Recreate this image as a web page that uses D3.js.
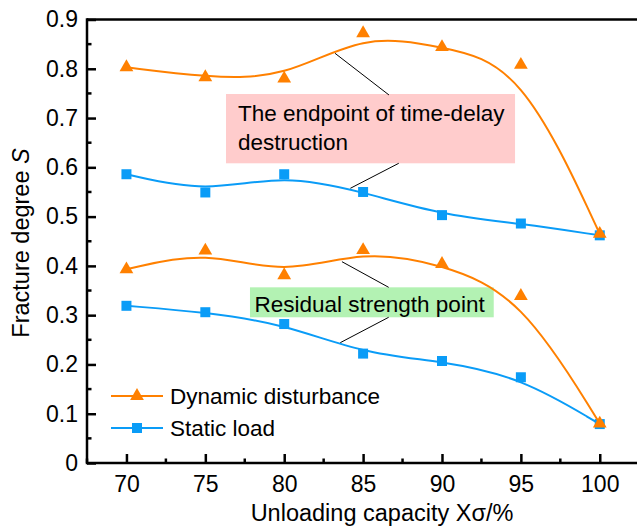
<!DOCTYPE html>
<html>
<head>
<meta charset="utf-8">
<script src="https://cdn.jsdelivr.net/npm/d3@7/dist/d3.min.js"></script>
<style>
  html, body { margin: 0; padding: 0; background: #fff; }
  svg { display: block; font-family: "Liberation Sans", Arial, sans-serif; }
</style>
</head>
<body>
<svg id="chart" width="637" height="530"></svg>
<script>
// Unloading capacity (%) on the x axis
const xCategories = [70, 75, 80, 85, 90, 95, 100];

// Endpoint of time-delay destruction
const dynamicEndpoint = [0.803, 0.783, 0.780, 0.872, 0.844, 0.808, 0.465];
const staticEndpoint  = [0.586, 0.549, 0.586, 0.550, 0.503, 0.486, 0.462];

// Residual strength point
const dynamicResidual = [0.393, 0.431, 0.381, 0.432, 0.404, 0.339, 0.080];
const staticResidual  = [0.319, 0.306, 0.282, 0.222, 0.207, 0.174, 0.079];

const xTicks = [70, 75, 80, 85, 90, 95, 100];
const yTicks = [0, 0.1, 0.2, 0.3, 0.4, 0.5, 0.6, 0.7, 0.8, 0.9];
const yTickLabels = ["0", "0.1", "0.2", "0.3", "0.4", "0.5", "0.6", "0.7", "0.8", "0.9"];

const seriesNames = ["Dynamic disturbance", "Static load"];

const ORANGE = "#ff8000";
const BLUE = "#0a9cf7";

const svg = d3.select("#chart");

const x = d3.scaleLinear().domain([67.5, 102.5]).range([87, 639.2]);
const y = d3.scaleLinear().domain([0, 0.9]).range([463, 19.5]);

const TICK_FONT = 23;
const TITLE_FONT = 23.5;
const TEXT_FONT = 22.5;

// ---- axes frame ----
svg.append("line")
  .attr("x1", x(67.5)).attr("x2", 637)
  .attr("y1", y(0.9)).attr("y2", y(0.9))
  .attr("stroke", "#000").attr("stroke-width", 2.5);

// bottom axis, ticks pointing inward
const xAxis = d3.axisBottom(x).tickValues(xTicks).tickSize(-9).tickPadding(0).tickFormat(d3.format("d"));
const gx = svg.append("g").attr("transform", `translate(0,${y(0)})`).call(xAxis);
gx.select(".domain").attr("d", `M${x(67.5)},0H637`).attr("stroke-width", 2.5);
gx.selectAll(".tick line").attr("stroke-width", 2.5);
gx.selectAll(".tick text").attr("font-size", TICK_FONT).attr("font-family", "Liberation Sans, Arial, sans-serif")
  .attr("fill", "#000").attr("dy", null).attr("y", 28.5);
const xMinor = d3.range(67.5, 102.6, 2.5).filter(v => !xTicks.some(t => Math.abs(t - v) < 1e-6));
gx.selectAll(".minor").data(xMinor).enter().append("line")
  .attr("x1", d => x(d)).attr("x2", d => x(d))
  .attr("y1", 0).attr("y2", -4.5)
  .attr("stroke", "#000").attr("stroke-width", 2.5);

// left axis, ticks pointing inward
const yAxis = d3.axisLeft(y).tickValues(yTicks).tickSize(-9).tickPadding(0)
  .tickFormat((d, i) => yTickLabels[i]);
const gy = svg.append("g").attr("transform", `translate(${x(67.5)},0)`).call(yAxis);
gy.select(".domain").attr("d", `M0,${y(0) + 1.25}V${y(0.9) - 1.25}`).attr("stroke-width", 2.5);
gy.selectAll(".tick line").attr("stroke-width", 2.5);
gy.selectAll(".tick text").attr("font-size", TICK_FONT).attr("font-family", "Liberation Sans, Arial, sans-serif")
  .attr("fill", "#000").attr("x", -9);
const yMinor = d3.range(0.05, 0.9, 0.1);
gy.selectAll(".minor").data(yMinor).enter().append("line")
  .attr("y1", d => y(d)).attr("y2", d => y(d))
  .attr("x1", 0).attr("x2", 4.5)
  .attr("stroke", "#000").attr("stroke-width", 2.5);

// ---- axis titles ----
svg.append("text")
  .attr("transform", `translate(29,243) rotate(-90)`)
  .attr("text-anchor", "middle")
  .attr("font-size", TITLE_FONT)
  .attr("fill", "#000")
  .html('Fracture degree <tspan font-style="italic">S</tspan>');

svg.append("text")
  .attr("x", 382).attr("y", 521)
  .attr("text-anchor", "middle")
  .attr("font-size", TITLE_FONT)
  .attr("fill", "#000")
  .text("Unloading capacity Xσ/%");

// ---- annotations (positions in data units) ----
const annG = svg.append("g");
function box(x0, x1, y0, y1, fill) {
  annG.append("rect")
    .attr("x", x(x0)).attr("y", y(y0))
    .attr("width", x(x1) - x(x0)).attr("height", y(y1) - y(y0))
    .attr("fill", fill);
}
function leader(xa, ya, xb, yb) {
  annG.append("line")
    .attr("x1", x(xa)).attr("y1", y(ya)).attr("x2", x(xb)).attr("y2", y(yb))
    .attr("stroke", "#000").attr("stroke-width", 1);
}
box(76.31, 94.63, 0.7488, 0.6082, "#ffcccc");
box(77.83, 93.28, 0.3565, 0.2957, "#b3f2b3");
leader(83.22, 0.8314, 86.64, 0.7468);
leader(87.26, 0.6082, 84.19, 0.5574);
leader(83.66, 0.4085, 86.62, 0.3565);
leader(86.62, 0.2957, 83.55, 0.2441);

annG.append("text").attr("x", 238).attr("y", 121).attr("font-size", TEXT_FONT).attr("fill", "#000")
  .text("The endpoint of time-delay");
annG.append("text").attr("x", 238).attr("y", 149.5).attr("font-size", TEXT_FONT).attr("fill", "#000")
  .text("destruction");
annG.append("text").attr("x", 254.5).attr("y", 311.5).attr("font-size", TEXT_FONT).attr("fill", "#000")
  .text("Residual strength point");

// ---- series ----
const line = d3.line().x(d => x(d[0])).y(d => y(d[1])).curve(d3.curveBasis);
const triangle = d3.symbol().type(d3.symbolTriangle).size(82);
const square = d3.symbol().type(d3.symbolSquare).size(100);

function drawSeries(vals, color, sym) {
  const pts = xCategories.map((c, i) => [c, vals[i]]);
  svg.append("path").datum(pts)
    .attr("d", line)
    .attr("fill", "none").attr("stroke", color).attr("stroke-width", 2);
  svg.append("g").selectAll("path").data(pts).enter().append("path")
    .attr("transform", d => `translate(${x(d[0])},${y(d[1])})`)
    .attr("d", sym)
    .attr("fill", color);
}
drawSeries(staticEndpoint, BLUE, square);
drawSeries(staticResidual, BLUE, square);
drawSeries(dynamicEndpoint, ORANGE, triangle);
drawSeries(dynamicResidual, ORANGE, triangle);

// ---- legend ----
const legend = svg.append("g");
const legendItems = [
  { name: seriesNames[0], color: ORANGE, sym: triangle, cy: 396 },
  { name: seriesNames[1], color: BLUE, sym: square, cy: 428 }
];
legendItems.forEach(it => {
  legend.append("line").attr("x1", 111).attr("x2", 163).attr("y1", it.cy).attr("y2", it.cy)
    .attr("stroke", it.color).attr("stroke-width", 2);
  legend.append("path").attr("transform", `translate(137,${it.cy})`).attr("d", it.sym).attr("fill", it.color);
  legend.append("text").attr("x", 170).attr("y", it.cy + 8).attr("font-size", TEXT_FONT).attr("fill", "#000")
    .text(it.name);
});
</script>
</body>
</html>
